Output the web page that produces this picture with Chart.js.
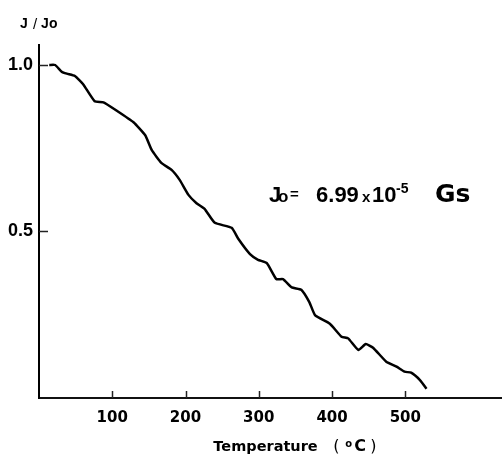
<!DOCTYPE html>
<html>
<head>
<meta charset="utf-8">
<script src="https://cdn.jsdelivr.net/npm/chart.js@4"></script>
<style>
  html, body { margin: 0; padding: 0; background: #fff; }
  #box { width: 502px; height: 458px; }
</style>
</head>
<body>
<div id="box"><canvas id="chartJ" width="502" height="458"></canvas></div>
<script>
// temperature (°C) and normalised J/Jo
var temperatures = [14, 22, 31, 38, 49, 60, 76, 88, 106, 129, 145, 154, 167, 181, 192, 204, 215, 226, 240, 263, 272,
  288, 299, 311, 324, 333, 345, 358, 369, 377, 397, 413, 422, 436, 446, 456, 474, 488, 499, 508, 520, 529];
var ratio = [1.0, 1.0, 0.980, 0.974, 0.967, 0.943, 0.891, 0.888, 0.863, 0.828, 0.789, 0.744, 0.706, 0.685, 0.655, 0.610, 0.585, 0.568, 0.526, 0.511, 0.478,
  0.432, 0.415, 0.405, 0.357, 0.357, 0.332, 0.325, 0.288, 0.248, 0.223, 0.184, 0.179, 0.144, 0.162, 0.151, 0.109, 0.094, 0.079, 0.076, 0.054, 0.028];

var xTickValues = [100, 200, 300, 400, 500];
var yTickValues = [0.5, 1.0];
var xTitle = "Temperature";

var points = temperatures.map(function(t, i) { return { x: t, y: ratio[i] }; });

// inward tick marks + the texts of the figure
var figureTexts = {
  id: 'figureTexts',
  afterDraw: function(chart) {
    var ctx = chart.ctx;
    var xs = chart.scales.x, ys = chart.scales.y;
    var area = chart.chartArea;
    ctx.save();
    ctx.strokeStyle = '#222';
    ctx.lineWidth = 1.5;
    yTickValues.forEach(function(v) {
      var py = Math.round(ys.getPixelForValue(v)) + 0.5;
      ctx.beginPath(); ctx.moveTo(area.left, py); ctx.lineTo(area.left + 9, py); ctx.stroke();
    });
    xTickValues.forEach(function(v) {
      var px = Math.round(xs.getPixelForValue(v)) + 0.5;
      ctx.beginPath(); ctx.moveTo(px, area.bottom); ctx.lineTo(px, area.bottom - 7); ctx.stroke();
    });

    ctx.fillStyle = '#000';
    ctx.textBaseline = 'alphabetic';
    ctx.textAlign = 'left';

    // y title  J / Jo
    ctx.font = 'bold 14px "Liberation Sans"';
    ctx.fillText('J', area.left - 19, 28);
    ctx.font = '15px "Liberation Sans"';
    ctx.fillText('/', area.left - 6, 29);
    ctx.font = 'bold 14px "Liberation Sans"';
    ctx.fillText('J', area.left + 2, 28);
    ctx.fillText('o', area.left + 10, 28);

    // x title
    var tx = xs.getPixelForValue(238), ty = area.bottom + 53;
    ctx.font = 'bold 14.5px "DejaVu Sans"';
    ctx.fillText(xTitle, tx, ty);
    ctx.font = '16px "DejaVu Sans"';
    ctx.fillText('(', tx + 120, ty);
    ctx.font = 'bold 10px "DejaVu Sans"';
    ctx.fillText('o', tx + 132, ty - 4);
    ctx.font = 'bold 16px "DejaVu Sans"';
    ctx.fillText('C', tx + 141, ty);
    ctx.font = '16px "DejaVu Sans"';
    ctx.fillText(')', tx + 157, ty);

    // Jo = 6.99 x 10^-5 Gs
    var ax = xs.getPixelForValue(314), ay = ys.getPixelForValue(0.59);
    ctx.font = 'bold 22px "Liberation Sans"';
    ctx.fillText('J', ax, ay);
    ctx.font = 'bold 17px "Liberation Sans"';
    ctx.fillText('o', ax + 9, ay);
    ctx.font = 'bold 15px "Liberation Sans"';
    ctx.fillText('=', ax + 21, ay - 3);
    ctx.font = 'bold 22px "Liberation Sans"';
    ctx.fillText('6.99', ax + 47, ay);
    ctx.font = 'bold 15px "Liberation Sans"';
    ctx.fillText('x', ax + 93, ay);
    ctx.font = 'bold 22px "Liberation Sans"';
    ctx.fillText('10', ax + 103, ay);
    ctx.font = 'bold 14px "Liberation Sans"';
    ctx.fillText('-5', ax + 127, ay - 9);
    ctx.font = 'bold 25px "DejaVu Sans"';
    ctx.fillText('Gs', ax + 166, ay);
    ctx.restore();
  }
};

var ctxJ = document.getElementById('chartJ').getContext('2d');

var chartJ = new Chart(ctxJ, {
  type: 'line',
  data: {
    datasets: [{
      data: points,
      borderColor: '#000',
      borderWidth: 2.5,
      pointRadius: 0,
      tension: 0.15,
      fill: false
    }]
  },
  options: {
    responsive: false,
    animation: false,
    layout: { padding: { top: 45, right: 0, left: 0, bottom: 0 } },
    plugins: { legend: { display: false }, tooltip: { enabled: false } },
    scales: {
      x: {
        type: 'linear',
        min: 0,
        max: 632,
        afterBuildTicks: function(scale) { scale.ticks = xTickValues.map(function(v) { return { value: v }; }); },
        afterFit: function(scale) { scale.height = 60; },
        grid: { display: false, drawTicks: false },
        border: { color: '#111', width: 2 },
        ticks: {
          color: '#000',
          padding: 11,
          maxRotation: 0,
          font: { family: 'DejaVu Sans', weight: 'bold', size: 15 }
        }
      },
      y: {
        min: 0,
        max: 1.06,
        afterBuildTicks: function(scale) { scale.ticks = yTickValues.map(function(v) { return { value: v }; }); },
        afterFit: function(scale) { scale.width = 39; },
        grid: { display: false, drawTicks: false },
        border: { color: '#000', width: 2 },
        ticks: {
          color: '#000',
          padding: 6,
          font: { family: 'Liberation Sans', weight: 'bold', size: 18 },
          callback: function(v) { return v.toFixed(1); }
        }
      }
    }
  },
  plugins: [figureTexts]
});
</script>
</body>
</html>
